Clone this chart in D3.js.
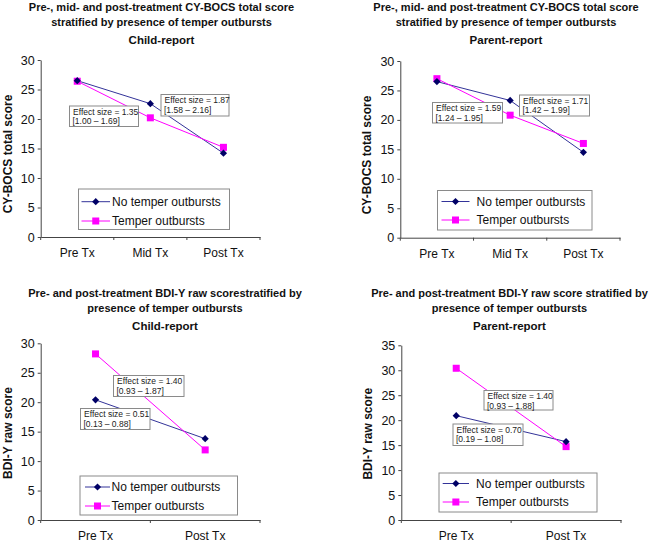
<!DOCTYPE html>
<html>
<head>
<meta charset="utf-8">
<script src="https://cdn.jsdelivr.net/npm/d3@7"></script>
<style>
  html, body { margin: 0; padding: 0; background: #ffffff; }
  svg { display: block; }
  text { font-family: "Liberation Sans", Arial, Helvetica, sans-serif; }
</style>
</head>
<body>
<svg id="chart" width="666" height="543"></svg>
<script>
// ---------------- DATA ----------------
const catsCY = ["Pre Tx", "Mid Tx", "Post Tx"];
const catsBDI = ["Pre Tx", "Post Tx"];
const seriesNames = ["No temper outbursts", "Temper outbursts"];

const childCYNoTemper = [26.5, 22.6, 14.2];
const childCYTemper = [26.4, 20.2, 15.2];
const parentCYNoTemper = [26.5, 23.3, 14.5];
const parentCYTemper = [27.0, 20.8, 16.0];
const childBDINoTemper = [20.4, 13.8];
const childBDITemper = [28.2, 11.9];
const parentBDINoTemper = [20.9, 15.7];
const parentBDITemper = [30.4, 14.7];

const yTicks30 = [0, 5, 10, 15, 20, 25, 30];
const yTicks35 = [0, 5, 10, 15, 20, 25, 30, 35];

const titleCY = ["Pre-, mid- and post-treatment CY-BOCS total score", "stratified by presence of temper outbursts"];
const titleBDIChild = ["Pre- and post-treatment BDI-Y raw scorestratified by", "presence of temper outbursts"];
const titleBDIParent = ["Pre- and post-treatment BDI-Y raw score stratified by", "presence of temper outbursts"];
const subtitles = ["Child-report", "Parent-report", "Child-report", "Parent-report"];
const yLabels = ["CY-BOCS total score", "CY-BOCS total score", "BDI-Y raw score", "BDI-Y raw score"];

const effectChildCY = [["Effect size = 1.35", "[1.00 \u2013 1.69]"], ["Effect size = 1.87", "[1.58 \u2013 2.16]"]];
const effectParentCY = [["Effect size = 1.59", "[1.24 \u2013 1.95]"], ["Effect size = 1.71", "[1.42 \u2013 1.99]"]];
const effectChildBDI = [["Effect size = 1.40", "[0.93 \u2013 1.87]"], ["Effect size = 0.51", "[0.13 \u2013 0.88]"]];
const effectParentBDI = [["Effect size = 1.40", "[0.93 \u2013 1.88]"], ["Effect size = 0.70", "[0.19 \u2013 1.08]"]];

// ---------------- STYLE / LAYOUT ----------------
const colNo = "#333399", colNoMark = "#000066";
const colTemper = "#ff00ff";
const axisCol = "#444444";
const boxCol = "#8a8a8a";

const panels = [
  { cats: catsCY, s: [childCYNoTemper, childCYTemper], yMax: 30, ticks: yTicks30,
    title: titleCY, sub: subtitles[0], ylab: yLabels[0],
    left: 40.7, right: 260, top: 60, bottom: 237,
    titleX: 161.5, titleY: [10.6, 25.6, 44], ylabX: 7.5, ylabY: 154, xlabY: 257,
    legend: { x: 78.5, y: 189, w: 151, h: 40.5, l0: 81.5, l1: 110, tx: 112, r1: 201.7, r2: 221 },
    eff: effectChildCY, boxes: [{ x: 69.5, y: 106, w: 69, h: 20.5 }, { x: 161, y: 94.5, w: 68, h: 21.5 }] },
  { cats: catsCY, s: [parentCYNoTemper, parentCYTemper], yMax: 30, ticks: yTicks30,
    title: titleCY, sub: subtitles[1], ylab: yLabels[1],
    left: 400.3, right: 620, top: 61, bottom: 237.7,
    titleX: 506, titleY: [10.6, 25.6, 44], ylabX: 367, ylabY: 155, xlabY: 258,
    legend: { x: 437.5, y: 190.5, w: 154.5, h: 39.5, l0: 441.5, l1: 469.5, tx: 476.5, r1: 201.5, r2: 220 },
    eff: effectParentCY, boxes: [{ x: 432.5, y: 102.5, w: 70, h: 20.5 }, { x: 519.5, y: 95, w: 70, h: 21 }] },
  { cats: catsBDI, s: [childBDINoTemper, childBDITemper], yMax: 30, ticks: yTicks30,
    title: titleBDIChild, sub: subtitles[2], ylab: yLabels[2],
    left: 40.7, right: 260, top: 343.3, bottom: 520,
    titleX: 165, titleY: [297.3, 311.6, 330], ylabX: 7.7, ylabY: 433, xlabY: 539.5,
    legend: { x: 80, y: 476, w: 157.5, h: 39, l0: 85, l1: 110, tx: 111.5, r1: 487, r2: 506 },
    eff: effectChildBDI, boxes: [{ x: 113.5, y: 375.5, w: 70.5, h: 21 }, { x: 80.5, y: 408.5, w: 69.5, h: 21 }] },
  { cats: catsBDI, s: [parentBDINoTemper, parentBDITemper], yMax: 35, ticks: yTicks35,
    title: titleBDIParent, sub: subtitles[3], ylab: yLabels[3],
    left: 401.3, right: 621, top: 345.3, bottom: 520,
    titleX: 509.5, titleY: [297.3, 311.6, 330], ylabX: 367.7, ylabY: 433.7, xlabY: 539.5,
    legend: { x: 439, y: 473, w: 158, h: 39, l0: 442.7, l1: 469, tx: 476, r1: 483.5, r2: 502 },
    eff: effectParentBDI, boxes: [{ x: 484, y: 390.5, w: 69, h: 19.5 }, { x: 453, y: 424, w: 70, h: 21.5 }] }
];

const svg = d3.select("#chart");

function diamond(g, x, y, c) {
  const r = 3.6;
  g.append("path").attr("d", `M0,${-r}L${r},0L0,${r}L${-r},0Z`).attr("transform", `translate(${x},${y})`).attr("fill", c);
}
function square(g, x, y, c) {
  g.append("rect").attr("x", x - 3.5).attr("y", y - 3.5).attr("width", 7).attr("height", 7).attr("fill", c);
}

panels.forEach(p => {
  const g = svg.append("g");
  const x = d3.scaleBand().domain(p.cats).range([p.left, p.right]).padding(0);
  const y = d3.scaleLinear().domain([0, p.yMax]).range([p.bottom, p.top]);

  // titles
  p.title.forEach((t, i) => {
    g.append("text").attr("x", p.titleX).attr("y", p.titleY[i]).attr("text-anchor", "middle")
      .attr("font-size", 11).attr("font-weight", "bold").attr("fill", "#111").text(t);
  });
  g.append("text").attr("x", p.titleX).attr("y", p.titleY[2]).attr("text-anchor", "middle")
    .attr("font-size", 11.5).attr("font-weight", "bold").attr("fill", "#111").text(p.sub);

  // y label
  g.append("text").attr("transform", `translate(${p.ylabX + 4.3},${p.ylabY}) rotate(-90)`)
    .attr("text-anchor", "middle").attr("font-size", 12).attr("font-weight", "bold").attr("fill", "#111").text(p.ylab);

  // y axis
  const ya = g.append("g").attr("transform", `translate(${p.left},0)`)
    .call(d3.axisLeft(y).tickValues(p.ticks).tickSize(3).tickSizeOuter(0).tickPadding(3).tickFormat(d3.format("d")));
  ya.select(".domain").attr("stroke", axisCol);
  ya.selectAll(".tick line").attr("stroke", axisCol);
  ya.selectAll(".tick text").attr("font-size", 12.5).attr("fill", "#111").attr("font-family", "Liberation Sans, Arial, sans-serif");

  // x axis (line + ticks at category boundaries)
  const xa = g.append("g").attr("transform", `translate(0,${p.bottom})`)
    .call(d3.axisBottom(x).tickSize(0).tickPadding(0).tickFormat(""));
  xa.select(".domain").attr("stroke", axisCol);
  const bounds = p.cats.map(c => x(c)).concat([x(p.cats[p.cats.length - 1]) + x.bandwidth()]);
  g.selectAll(null).data(bounds).enter().append("line")
    .attr("x1", d => d).attr("x2", d => d).attr("y1", p.bottom).attr("y2", p.bottom + 3).attr("stroke", axisCol);
  g.selectAll(null).data(p.cats).enter().append("text")
    .attr("x", d => x(d) + x.bandwidth() / 2).attr("y", p.xlabY).attr("text-anchor", "middle")
    .attr("font-size", 12).attr("fill", "#111").text(d => d);

  // lines
  const line = d3.line().x((d, i) => x(p.cats[i]) + x.bandwidth() / 2).y(d => y(d));
  g.append("path").datum(p.s[0]).attr("d", line).attr("fill", "none").attr("stroke", colNo).attr("stroke-width", 1);
  g.append("path").datum(p.s[1]).attr("d", line).attr("fill", "none").attr("stroke", colTemper).attr("stroke-width", 1);
  p.s[1].forEach((v, i) => square(g, x(p.cats[i]) + x.bandwidth() / 2, y(v), colTemper));
  p.s[0].forEach((v, i) => diamond(g, x(p.cats[i]) + x.bandwidth() / 2, y(v), colNoMark));

  // effect size boxes
  p.boxes.forEach((b, i) => {
    g.append("rect").attr("x", b.x).attr("y", b.y).attr("width", b.w).attr("height", b.h)
      .attr("fill", "#fff").attr("stroke", boxCol).attr("stroke-width", 1);
    g.append("text").attr("x", b.x + 3.5).attr("y", b.y + 8.7).attr("font-size", 8.5).attr("fill", "#222").text(p.eff[i][0]);
    g.append("text").attr("x", b.x + 3).attr("y", b.y + 18).attr("font-size", 8.5).attr("fill", "#222").text(p.eff[i][1]);
  });

  // legend
  const L = p.legend;
  g.append("rect").attr("x", L.x).attr("y", L.y).attr("width", L.w).attr("height", L.h)
    .attr("fill", "#fff").attr("stroke", boxCol).attr("stroke-width", 1);
  g.append("line").attr("x1", L.l0).attr("x2", L.l1).attr("y1", L.r1).attr("y2", L.r1).attr("stroke", colNo);
  diamond(g, (L.l0 + L.l1) / 2, L.r1, colNoMark);
  g.append("line").attr("x1", L.l0).attr("x2", L.l1).attr("y1", L.r2).attr("y2", L.r2).attr("stroke", colTemper);
  square(g, (L.l0 + L.l1) / 2, L.r2, colTemper);
  g.append("text").attr("x", L.tx).attr("y", L.r1 + 4.3).attr("font-size", 12).attr("fill", "#111").text(seriesNames[0]);
  g.append("text").attr("x", L.tx).attr("y", L.r2 + 4.3).attr("font-size", 12).attr("fill", "#111").text(seriesNames[1]);
});
</script>
</body>
</html>
